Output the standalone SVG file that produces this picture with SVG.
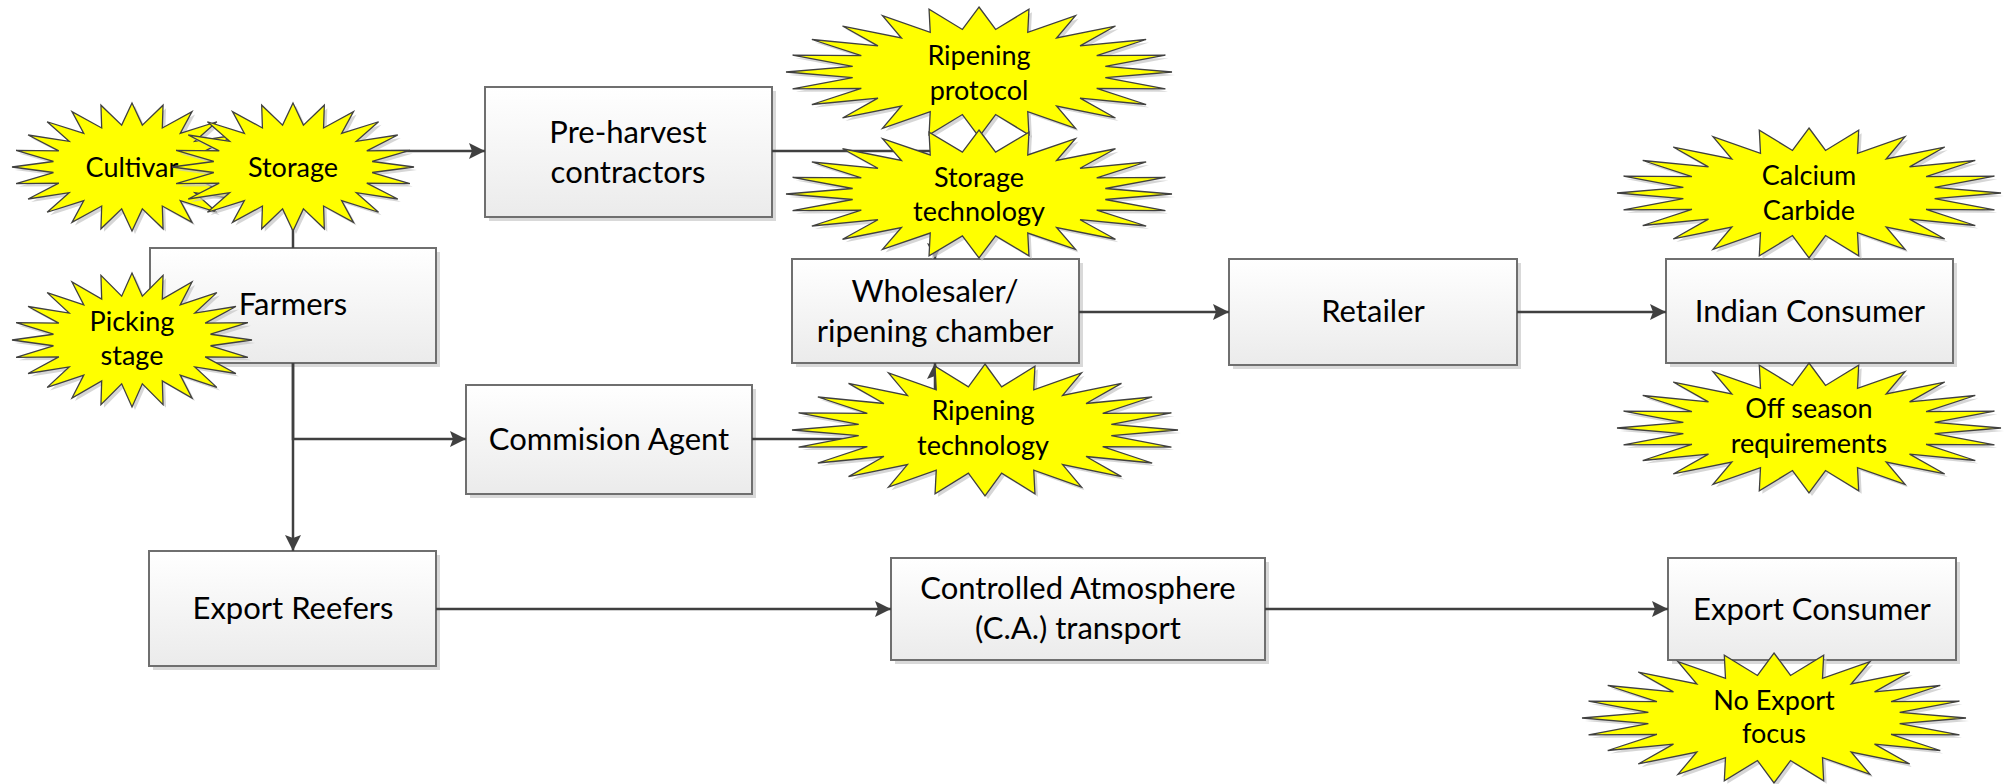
<svg xmlns="http://www.w3.org/2000/svg" width="2004" height="784" viewBox="0 0 2004 784">
<defs>
<linearGradient id="boxg" x1="0" y1="0" x2="0" y2="1"><stop offset="0" stop-color="#ffffff"/><stop offset="1" stop-color="#ebebeb"/></linearGradient>
<marker id="arr" markerUnits="userSpaceOnUse" markerWidth="18" markerHeight="18" refX="16" refY="8" orient="auto"><path d="M0,0 L16,8 L0,16 L3,8 Z" fill="#404040"/></marker>
<path id="star" vector-effect="non-scaling-stroke" d="M0,-100 L8.61,-65.44 L25.88,-96.59 L25.26,-60.98 L50,-86.6 L40.18,-52.36 L70.71,-70.71 L52.36,-40.18 L86.6,-50 L60.98,-25.26 L96.59,-25.88 L65.44,-8.61 L100,0 L65.44,8.61 L96.59,25.88 L60.98,25.26 L86.6,50 L52.36,40.18 L70.71,70.71 L40.18,52.36 L50,86.6 L25.26,60.98 L25.88,96.59 L8.61,65.44 L0,100 L-8.61,65.44 L-25.88,96.59 L-25.26,60.98 L-50,86.6 L-40.18,52.36 L-70.71,70.71 L-52.36,40.18 L-86.6,50 L-60.98,25.26 L-96.59,25.88 L-65.44,8.61 L-100,0 L-65.44,-8.61 L-96.59,-25.88 L-60.98,-25.26 L-86.6,-50 L-52.36,-40.18 L-70.71,-70.71 L-40.18,-52.36 L-50,-86.6 L-25.26,-60.98 L-25.88,-96.59 L-8.61,-65.44 Z"/>
</defs>
<style>
.box{fill:url(#boxg);stroke:#6f6f6f;stroke-width:2}
.shadow{fill:#d9d9d9}
.conn{fill:none;stroke:#404040;stroke-width:2.5;marker-end:url(#arr)}
.star{fill:#ffff00;stroke:#404040;stroke-width:1.3}
.sshadow{fill:#c4c4c4;stroke:none;opacity:0.7}
.t{font-family:Lato,"Liberation Sans",sans-serif;font-size:31px;fill:#000;text-anchor:middle}
.s{font-size:27px}
</style>
<rect width="2004" height="784" fill="#ffffff"/>

<g id="farmers"><rect class="shadow" x="154" y="252" width="286" height="115"/><rect class="box" x="150" y="248" width="286" height="115"/><text class="t" x="293" y="315">Farmers</text></g>
<g id="preharvest"><rect class="shadow" x="489" y="91" width="287" height="130"/><rect class="box" x="485" y="87" width="287" height="130"/><text class="t" x="628" y="143">Pre-harvest</text><text class="t" x="628" y="183">contractors</text></g>
<g id="commission"><rect class="shadow" x="470" y="389" width="286" height="109"/><rect class="box" x="466" y="385" width="286" height="109"/><text class="t" x="609" y="450">Commision Agent</text></g>
<g id="wholesaler"><rect class="shadow" x="796" y="263" width="287" height="104"/><rect class="box" x="792" y="259" width="287" height="104"/><text class="t" x="935" y="302">Wholesaler/</text><text class="t" x="935" y="342">ripening chamber</text></g>
<g id="retailer"><rect class="shadow" x="1233" y="263" width="288" height="106"/><rect class="box" x="1229" y="259" width="288" height="106"/><text class="t" x="1373" y="322">Retailer</text></g>
<g id="indian"><rect class="shadow" x="1670" y="263" width="287" height="104"/><rect class="box" x="1666" y="259" width="287" height="104"/><text class="t" x="1810" y="322">Indian Consumer</text></g>
<g id="reefers"><rect class="shadow" x="153" y="555" width="287" height="115"/><rect class="box" x="149" y="551" width="287" height="115"/><text class="t" x="293" y="619">Export Reefers</text></g>
<g id="ca"><rect class="shadow" x="895" y="562" width="374" height="102"/><rect class="box" x="891" y="558" width="374" height="102"/><text class="t" x="1078" y="599">Controlled Atmosphere</text><text class="t" x="1078" y="639">(C.A.) transport</text></g>
<g id="exportconsumer"><rect class="shadow" x="1672" y="562" width="288" height="102"/><rect class="box" x="1668" y="558" width="288" height="102"/><text class="t" x="1812" y="620">Export Consumer</text></g>

<g id="connectors">
<path class="conn" d="M293,248 V151 H485"/>
<path class="conn" d="M772,151 H935 V259"/>
<path class="conn" d="M752,439 H935 V363"/>
<path class="conn" d="M293,363 V439 H466"/>
<path class="conn" d="M293,363 V551"/>
<path class="conn" d="M1079,312 H1229"/>
<path class="conn" d="M1517,312 H1666"/>
<path class="conn" d="M436,609 H891"/>
<path class="conn" d="M1265,609 H1668"/>
</g>

<g id="cultivar"><use href="#star" class="sshadow" transform="translate(135,170) scale(1.2,0.64)"/><use href="#star" class="star" transform="translate(132,167) scale(1.2,0.64)"/><text class="t s" x="132" y="177">Cultivar</text></g>
<g id="storage"><use href="#star" class="sshadow" transform="translate(296,170) scale(1.21,0.64)"/><use href="#star" class="star" transform="translate(293,167) scale(1.21,0.64)"/><text class="t s" x="293" y="177">Storage</text></g>
<g id="picking"><use href="#star" class="sshadow" transform="translate(135,343) scale(1.2,0.67)"/><use href="#star" class="star" transform="translate(132,340) scale(1.2,0.67)"/><text class="t s" x="132" y="331">Picking</text><text class="t s" x="132" y="365">stage</text></g>
<g id="ripprotocol"><use href="#star" class="sshadow" transform="translate(982,75) scale(1.93,0.65)"/><use href="#star" class="star" transform="translate(979,72) scale(1.93,0.65)"/><text class="t s" x="979" y="65">Ripening</text><text class="t s" x="979" y="100">protocol</text></g>
<g id="stortech"><use href="#star" class="sshadow" transform="translate(982,197) scale(1.93,0.64)"/><use href="#star" class="star" transform="translate(979,194) scale(1.93,0.64)"/><text class="t s" x="979" y="187">Storage</text><text class="t s" x="979" y="221">technology</text></g>
<g id="riptech"><use href="#star" class="sshadow" transform="translate(988,433) scale(1.93,0.66)"/><use href="#star" class="star" transform="translate(985,430) scale(1.93,0.66)"/><text class="t s" x="983" y="420">Ripening</text><text class="t s" x="983" y="455">technology</text></g>
<g id="calcium"><use href="#star" class="sshadow" transform="translate(1812,196) scale(1.92,0.65)"/><use href="#star" class="star" transform="translate(1809,193) scale(1.92,0.65)"/><text class="t s" x="1809" y="185">Calcium</text><text class="t s" x="1809" y="220">Carbide</text></g>
<g id="offseason"><use href="#star" class="sshadow" transform="translate(1812,431) scale(1.92,0.65)"/><use href="#star" class="star" transform="translate(1809,428) scale(1.92,0.65)"/><text class="t s" x="1809" y="418">Off season</text><text class="t s" x="1809" y="453">requirements</text></g>
<g id="noexport"><use href="#star" class="sshadow" transform="translate(1777,721) scale(1.92,0.65)"/><use href="#star" class="star" transform="translate(1774,718) scale(1.92,0.65)"/><text class="t s" x="1774" y="710">No Export</text><text class="t s" x="1774" y="743">focus</text></g>
</svg>
